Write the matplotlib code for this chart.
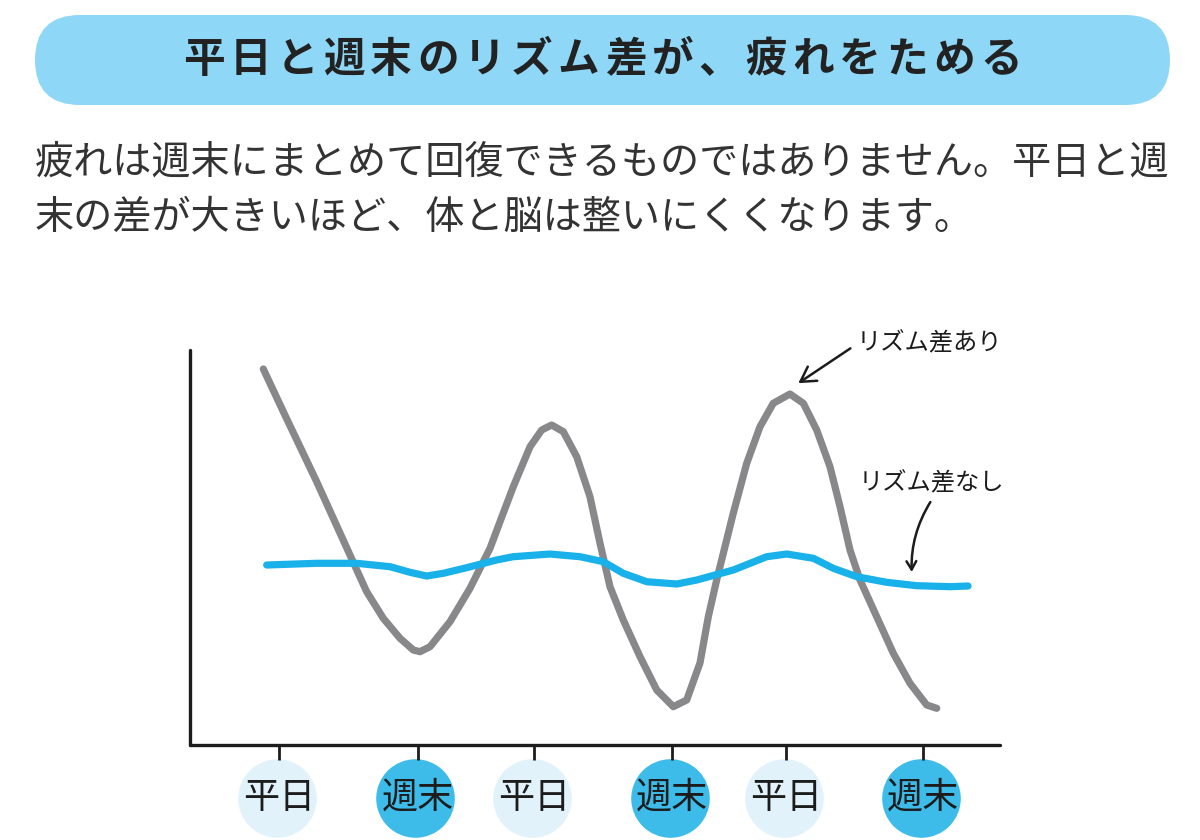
import matplotlib.pyplot as plt
from matplotlib.patches import FancyBboxPatch

plt.rcParams['font.family'] = ['Noto Sans CJK JP', 'DejaVu Sans']

# テキスト
title = "平日と週末のリズム差が、疲れをためる"
body_lines = ["疲れは週末にまとめて回復できるものではありません。平日と週",
              "末の差が大きいほど、体と脳は整いにくくなります。"]

# 横軸（時間の流れ）
tick_pos = [11.0, 28.1, 42.5, 59.5, 73.6, 90.5]
tick_labels = ["平日", "週末", "平日", "週末", "平日", "週末"]

# リズム差あり（灰色の線）
gap_x = [9.05, 11.52, 15.64, 19.75, 21.81, 23.86, 25.93, 27.57, 28.40, 29.63,
         32.10, 34.57, 37.04, 38.27, 39.91, 41.98, 43.42, 44.65, 46.09, 47.74,
         49.38, 50.62, 51.85, 53.49, 55.56, 57.62, 59.67, 61.32, 62.96, 63.99,
         65.02, 67.07, 68.73, 70.37, 72.01, 74.07, 75.72, 77.37, 79.01, 80.25,
         81.48, 82.72, 84.78, 86.83, 88.89, 90.95, 92.19]
gap_y = [95.19, 84.38, 66.66, 48.10, 38.81, 32.08, 27.01, 24.05, 23.62, 24.89,
         31.22, 39.67, 49.80, 56.53, 65.39, 75.52, 79.75, 81.01, 79.32, 72.99,
         62.86, 51.06, 40.08, 31.65, 22.35, 13.92, 9.70, 11.39, 20.76, 32.48,
         41.77, 58.66, 71.32, 80.58, 86.51, 88.86, 86.51, 79.75, 70.46, 60.33,
         49.37, 41.77, 32.48, 23.22, 15.62, 10.13, 9.29]

# リズム差なし（青い線）
flat_x = [9.47, 15.64, 20.58, 24.69, 27.16, 29.22, 31.27, 34.16, 37.86, 39.91,
          44.44, 48.15, 51.02, 53.49, 56.38, 60.09, 62.56, 67.07, 71.20, 73.67,
          76.95, 79.42, 82.31, 86.01, 89.72, 93.83, 96.05]
flat_y = [45.57, 46.00, 46.00, 45.14, 43.72, 42.78, 43.47, 44.89, 46.84, 47.67,
          48.35, 47.67, 46.41, 43.47, 41.34, 40.76, 41.77, 44.30, 47.67, 48.35,
          47.27, 44.73, 42.61, 41.19, 40.33, 40.08, 40.25]

GRAY = '#88888b'
BLUE = '#19b1e9'
INK = '#1c1c1c'

fig = plt.figure(figsize=(12, 8.4), dpi=100)

# 背景レイヤー（ピクセル座標）
bg = fig.add_axes([0, 0, 1, 1])
bg.set_xlim(0, 1200)
bg.set_ylim(840, 0)
bg.axis('off')

banner = FancyBboxPatch((35, 15), 1135, 90,
                        boxstyle="round,pad=0,rounding_size=45",
                        facecolor='#8fd7f7', edgecolor='none')
bg.add_patch(banner)
# 字間を広めにとったタイトル
pitch = 46.9
for i, ch in enumerate(title):
    bg.text(180 + pitch / 2 + i * pitch, 60, ch, ha='center', va='center',
            fontsize=30, fontweight='bold', color='#222222')
for i, line in enumerate(body_lines):
    bg.text(35, 163 + i * 55, line, ha='left', va='center', fontsize=28.2,
            color='#333333')

# グラフ
ax = fig.add_axes([190 / 1200, 95 / 840, 810 / 1200, 395 / 840])
ax.set_xlim(0, 100)
ax.set_ylim(0, 100)
for side in ('top', 'right'):
    ax.spines[side].set_visible(False)
for side in ('left', 'bottom'):
    ax.spines[side].set_linewidth(2.4)
    ax.spines[side].set_color(INK)
    ax.spines[side].set_capstyle('round')
ax.set_yticks([])
ax.set_xticks(tick_pos)
ax.set_xticklabels([])
ax.tick_params(axis='x', length=11, width=2, color=INK, direction='out')

ax.plot(gap_x, gap_y, color=GRAY, lw=5.2, solid_capstyle='round',
        solid_joinstyle='round', zorder=3)
ax.plot(flat_x, flat_y, color=BLUE, lw=5.2, solid_capstyle='round',
        solid_joinstyle='round', zorder=4)

# 目盛りラベル（丸い背景つき）
trans = ax.get_xaxis_transform()
for x, lab in zip(tick_pos, tick_labels):
    c = '#3dbbe9' if lab == "週末" else '#e1f2fb'
    ax.scatter([x - 0.3], [-0.133], s=3200, color=c, transform=trans,
               clip_on=False, zorder=1, linewidths=0)
    ax.text(x, -0.133, lab, transform=trans, ha='center', va='center',
            fontsize=26, color=INK, zorder=2, clip_on=False)

# 注釈
arrow = '->,head_length=0.6,head_width=0.35'
ax.annotate("リズム差あり", xy=(75.1, 91.6), xytext=(82.3, 101.8),
            ha='left', va='center', fontsize=17.5, color=INK,
            annotation_clip=False,
            arrowprops=dict(arrowstyle=arrow, color=INK, lw=1.8,
                            relpos=(0, 0.45), shrinkA=3, shrinkB=0))
ax.text(82.5, 66.3, "リズム差なし", ha='left', va='center', fontsize=17.5,
        color=INK)
ax.annotate("", xy=(89.1, 43.8), xytext=(91.4, 61.5),
            annotation_clip=False,
            arrowprops=dict(arrowstyle=arrow, color=INK, lw=1.8,
                            shrinkA=0, shrinkB=0,
                            connectionstyle='arc3,rad=0.15'))

fig.savefig('out.png', dpi=100)
